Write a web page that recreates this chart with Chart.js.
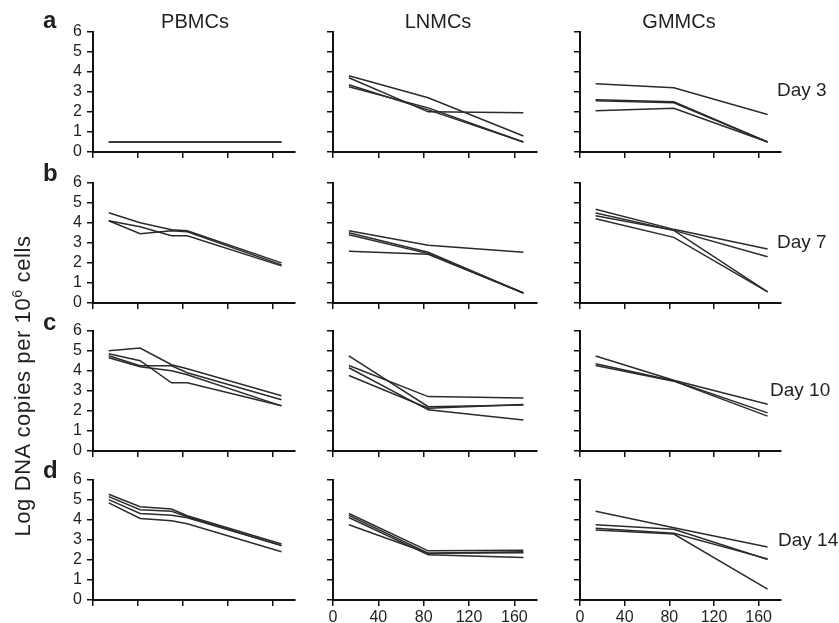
<!DOCTYPE html>
<html lang="en">
<head>
  <meta charset="UTF-8">
  <title>Log DNA copies</title>
  <script src="https://cdn.jsdelivr.net/npm/chart.js"></script>
  <style>
    body { margin: 0; background: #fff; font-family: "Liberation Sans", Arial, sans-serif; color: #231f20; }
    #wrap { position: relative; width: 839px; height: 623px; overflow: hidden; }
    .panel { position: absolute; }
    .txt { position: absolute; white-space: nowrap; line-height: 1; }
  </style>
</head>
<body>
  <div id="wrap"></div>

  <script>
    // x values (days) and ticks
    const pbmcDays = [14, 42, 70, 84, 168];
    const tissueDays = [14, 84, 168];
    const xTicks = [0, 40, 80, 120, 160];
    const yTicks = [0, 1, 2, 3, 4, 5, 6];

    const columns = ["PBMCs", "LNMCs", "GMMCs"];
    const rowLetters = ["a", "b", "c", "d"];
    const dayLabels = ["Day 3", "Day 7", "Day 10", "Day 14"];

    // row a - day 3
    const pbmcD3 = [[0.5, 0.5, 0.5, 0.5, 0.5], [0.5, 0.5, 0.5, 0.5, 0.5]];
    const lnmcD3 = [[3.8, 2.7, 0.8], [3.7, 2.0, 1.95], [3.35, 2.1, 0.5], [3.25, 2.2, 0.5]];
    const gmmcD3 = [[3.4, 3.2, 1.87], [2.6, 2.5, 0.5], [2.55, 2.45, 0.5], [2.05, 2.18, 0.5]];
    // row b - day 7
    const pbmcD7 = [[4.5, 4.0, 3.65, 3.6, 2.0], [4.1, 3.45, 3.6, 3.55, 1.9], [4.1, 3.8, 3.35, 3.35, 1.85]];
    const lnmcD7 = [[3.6, 2.88, 2.53], [3.5, 2.53, 0.5], [3.4, 2.46, 0.5], [2.58, 2.43, 0.5]];
    const gmmcD7 = [[4.67, 3.67, 2.69], [4.48, 3.62, 2.3], [4.35, 3.62, 0.55], [4.2, 3.27, 0.55]];
    // row c - day 10
    const pbmcD10 = [[5.0, 5.13, 4.3, 4.1, 2.75], [4.85, 4.5, 3.4, 3.4, 2.25], [4.75, 4.25, 4.25, 3.9, 2.55], [4.65, 4.2, 4.0, 3.8, 2.25]];
    const lnmcD10 = [[4.74, 2.21, 2.29], [4.26, 2.71, 2.64], [4.15, 2.05, 1.54], [3.76, 2.13, 2.32]];
    const gmmcD10 = [[4.73, 3.53, 2.33], [4.35, 3.5, 1.9], [4.26, 3.48, 1.74]];
    // row d - day 14
    const pbmcD14 = [[5.27, 4.65, 4.53, 4.2, 2.79], [5.15, 4.5, 4.42, 4.15, 2.71], [5.0, 4.31, 4.22, 4.1, 2.71], [4.84, 4.06, 3.95, 3.8, 2.4]];
    const lnmcD14 = [[4.31, 2.45, 2.48], [4.22, 2.33, 2.4], [4.11, 2.25, 2.12], [3.75, 2.33, 2.36]];
    const gmmcD14 = [[4.42, 3.6, 2.64], [3.75, 3.53, 2.02], [3.57, 3.33, 2.05], [3.49, 3.29, 0.54]];

    const grid = [
      [pbmcD3, lnmcD3, gmmcD3],
      [pbmcD7, lnmcD7, gmmcD7],
      [pbmcD10, lnmcD10, gmmcD10],
      [pbmcD14, lnmcD14, gmmcD14]
    ];

    // plot area edges in page pixels
    const colBox = [{ l: 93, r: 295 }, { l: 333, r: 537 }, { l: 580, r: 781 }];
    const rowBox = [{ t: 23, b: 152 }, { t: 174, b: 303 }, { t: 322, b: 451 }, { t: 471, b: 600 }];

    const FONT = '"Liberation Sans", Arial, sans-serif';
    const INK = "#231f20";
    const YW = 50, XH = 26, PT = 6, PR = 4;
    const wrap = document.getElementById("wrap");

    function addText(str, x, baseline, size, opts = {}) {
      const d = document.createElement("div");
      d.className = "txt";
      d.innerHTML = str;
      d.style.fontSize = size + "px";
      d.style.top = (baseline - 0.8465 * size) + "px";
      d.style.left = x + "px";
      if (opts.weight) d.style.fontWeight = opts.weight;
      if (opts.center) d.style.transform = "translateX(-50%)";
      wrap.appendChild(d);
      return d;
    }

    function drawPanel(r, c) {
      const cb = colBox[c], rb = rowBox[r];
      const w = cb.r - cb.l + YW + PR;
      const h = rb.b - rb.t + PT + XH;
      const box = document.createElement("div");
      box.className = "panel";
      box.style.left = (cb.l - YW) + "px";
      box.style.top = (rb.t - PT) + "px";
      const cv = document.createElement("canvas");
      cv.width = w;
      cv.height = h;
      box.appendChild(cv);
      wrap.appendChild(box);

      const days = c === 0 ? pbmcDays : tissueDays;
      const showY = c === 0;
      const showX = r === 3 && c > 0;

      new Chart(cv.getContext("2d"), {
        type: "line",
        data: {
          datasets: grid[r][c].map(vals => ({
            data: days.map((d, i) => ({ x: d, y: vals[i] })),
            borderColor: "#2b2b2b",
            borderWidth: 1.5,
            pointRadius: 0,
            fill: false,
            tension: 0
          }))
        },
        options: {
          responsive: false,
          animation: false,
          events: [],
          layout: { padding: { top: PT, right: PR, left: 0, bottom: 0 } },
          plugins: { legend: { display: false }, tooltip: { enabled: false } },
          scales: {
            x: {
              type: "linear",
              min: 0,
              max: 180,
              afterBuildTicks: s => { s.ticks = xTicks.map(v => ({ value: v })); },
              afterFit: s => { s.height = XH; },
              grid: { drawOnChartArea: false, drawTicks: true, tickLength: 6, color: "#111", lineWidth: 1.5 },
              border: { display: true, color: "#111", width: 2 },
              ticks: {
                color: showX ? INK : "rgba(0,0,0,0)",
                font: { size: 16, family: FONT },
                padding: 2,
                maxRotation: 0,
                autoSkip: false
              }
            },
            y: {
              min: 0,
              max: 6,
              afterBuildTicks: s => { s.ticks = yTicks.map(v => ({ value: v })); },
              afterFit: s => { s.width = YW; },
              grid: { drawOnChartArea: false, drawTicks: true, tickLength: 6, color: "#111", lineWidth: 1.5 },
              border: { display: true, color: "#111", width: 2 },
              ticks: {
                color: showY ? INK : "rgba(0,0,0,0)",
                font: { size: 16, family: FONT },
                padding: 5,
                autoSkip: false
              }
            }
          }
        }
      });
    }

    for (let r = 0; r < 4; r++) {
      for (let c = 0; c < 3; c++) drawPanel(r, c);
    }

    // column titles
    const titleX = [195, 438, 679];
    columns.forEach((t, i) => addText(t, titleX[i], 28, 20, { center: true }));

    // row letters
    const letterBase = [28, 181, 330, 478];
    rowLetters.forEach((t, i) => addText(t, 43, letterBase[i], 24, { weight: "bold" }));

    // day labels
    const dayBase = [96, 248, 396, 546];
    const dayX = [777, 777, 770, 778];
    dayLabels.forEach((t, i) => addText(t, dayX[i], dayBase[i], 19));

    // y axis title
    const yt = document.createElement("div");
    yt.className = "txt";
    yt.innerHTML = "Log DNA copies per 10<sup style=\"font-size:0.65em;vertical-align:0.55em\">6</sup> cells";
    yt.style.fontSize = "22px";
    yt.style.letterSpacing = "0.6px";
    yt.style.left = "22px";
    yt.style.top = "386px";
    yt.style.transform = "translate(-50%, -50%) rotate(-90deg)";
    wrap.appendChild(yt);
  </script>
</body>
</html>
